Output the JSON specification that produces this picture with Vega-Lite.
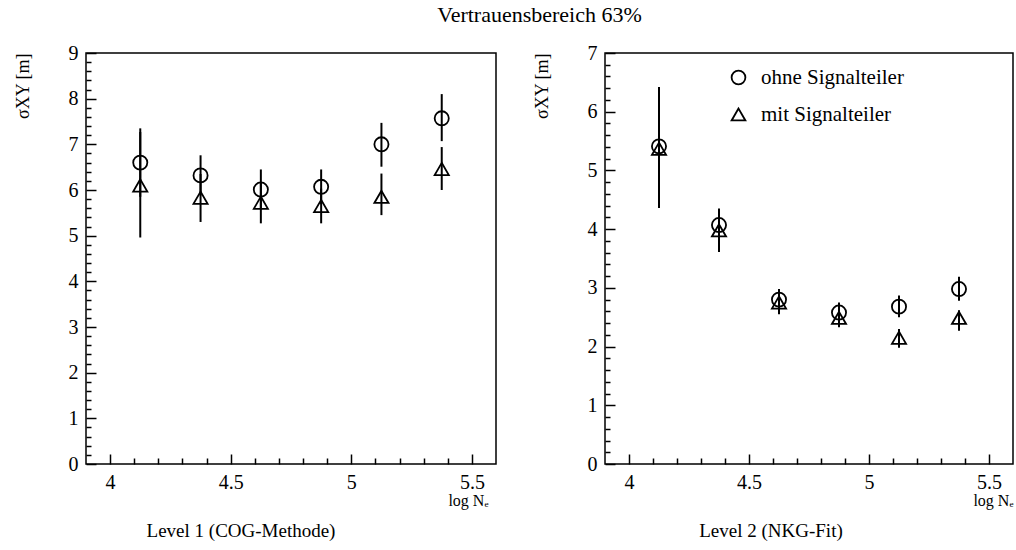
{
  "$schema": "https://vega.github.io/schema/vega-lite/v6.json",
  "background": "white",
  "padding": {"left": 13, "top": 4, "right": 2, "bottom": 4},
  "config": {
    "font": "Liberation Serif",
    "view": {"stroke": "black", "strokeWidth": 1.5},
    "axis": {
      "domain": false,
      "grid": false,
      "tickCount": 200,
      "labelFont": "Liberation Serif",
      "labelFontSize": 20,
      "labelColor": "black",
      "labelOverlap": false,
      "labelFlush": false,
      "tickColor": "black",
      "tickWidth": 1.5,
      "titleFont": "Liberation Serif",
      "titleColor": "black",
      "titleFontWeight": "normal"
    }
  },
  "title": {"text": "Vertrauensbereich 63%", "fontSize": 22, "fontWeight": "normal", "font": "Liberation Serif", "anchor": "middle", "offset": 15, "dx": 26, "color": "black"},
  "datasets": {
    "left": [
      {"logN": 4.125, "series": "ohne Signalteiler", "sigma": 6.60, "lo": 5.85, "hi": 7.35},
      {"logN": 4.375, "series": "ohne Signalteiler", "sigma": 6.32, "lo": 5.88, "hi": 6.76},
      {"logN": 4.625, "series": "ohne Signalteiler", "sigma": 6.01, "lo": 5.57, "hi": 6.45},
      {"logN": 4.875, "series": "ohne Signalteiler", "sigma": 6.07, "lo": 5.69, "hi": 6.45},
      {"logN": 5.125, "series": "ohne Signalteiler", "sigma": 7.00, "lo": 6.51, "hi": 7.47},
      {"logN": 5.375, "series": "ohne Signalteiler", "sigma": 7.57, "lo": 7.07, "hi": 8.10},
      {"logN": 4.125, "series": "mit Signalteiler", "sigma": 6.10, "lo": 4.96, "hi": 7.27},
      {"logN": 4.375, "series": "mit Signalteiler", "sigma": 5.83, "lo": 5.30, "hi": 6.35},
      {"logN": 4.625, "series": "mit Signalteiler", "sigma": 5.72, "lo": 5.27, "hi": 6.15},
      {"logN": 4.875, "series": "mit Signalteiler", "sigma": 5.65, "lo": 5.27, "hi": 6.03},
      {"logN": 5.125, "series": "mit Signalteiler", "sigma": 5.85, "lo": 5.45, "hi": 6.36},
      {"logN": 5.375, "series": "mit Signalteiler", "sigma": 6.46, "lo": 6.00, "hi": 6.94}
    ],
    "right": [
      {"logN": 4.125, "series": "ohne Signalteiler", "sigma": 5.41, "lo": 4.38, "hi": 6.42},
      {"logN": 4.375, "series": "ohne Signalteiler", "sigma": 4.07, "lo": 3.79, "hi": 4.35},
      {"logN": 4.625, "series": "ohne Signalteiler", "sigma": 2.80, "lo": 2.62, "hi": 2.98},
      {"logN": 4.875, "series": "ohne Signalteiler", "sigma": 2.58, "lo": 2.41, "hi": 2.75},
      {"logN": 5.125, "series": "ohne Signalteiler", "sigma": 2.68, "lo": 2.50, "hi": 2.87},
      {"logN": 5.375, "series": "ohne Signalteiler", "sigma": 2.98, "lo": 2.78, "hi": 3.19},
      {"logN": 4.125, "series": "mit Signalteiler", "sigma": 5.37, "lo": 4.36, "hi": 6.38},
      {"logN": 4.375, "series": "mit Signalteiler", "sigma": 3.98, "lo": 3.61, "hi": 4.30},
      {"logN": 4.625, "series": "mit Signalteiler", "sigma": 2.75, "lo": 2.55, "hi": 2.93},
      {"logN": 4.875, "series": "mit Signalteiler", "sigma": 2.49, "lo": 2.33, "hi": 2.65},
      {"logN": 5.125, "series": "mit Signalteiler", "sigma": 2.15, "lo": 1.98, "hi": 2.30},
      {"logN": 5.375, "series": "mit Signalteiler", "sigma": 2.49, "lo": 2.27, "hi": 2.62}
    ]
  },
  "spacing": 35,
  "resolve": {"legend": {"shape": "independent"}, "scale": {"y": "independent", "shape": "independent"}},
  "hconcat": [
    {
      "width": 410,
      "height": 411,
      "data": {"name": "left"},
      "title": {"text": "Level 1 (COG-Methode)", "orient": "bottom", "fontSize": 19, "fontWeight": "normal", "anchor": "middle", "dx": -50, "offset": 14, "color": "black"},
      "layer": [
        {
          "mark": {"type": "rule", "color": "black", "strokeWidth": 2},
          "encoding": {
            "x": {"field": "logN", "type": "quantitative", "scale": {"domain": [3.9, 5.6], "nice": false, "zero": false},
              "axis": {"values": [4.0,4.1,4.2,4.3,4.4,4.5,4.6,4.7,4.8,4.9,5.0,5.1,5.2,5.3,5.4,5.5], "format": "~g",
                "labelExpr": "abs(datum.value*2 - round(datum.value*2)) < 0.001 ? datum.label : ''",
                "tickSize": {"condition": {"test": "abs(datum.value*2 - round(datum.value*2)) < 0.001", "value": -10}, "value": -6},
                "labelPadding": 18,
                "title": "log Nₑ", "titleFontSize": 16, "titleAnchor": "end", "titleAlign": "right", "titleX": 402, "titlePadding": -4}},
            "y": {"field": "lo", "type": "quantitative", "scale": {"domain": [0, 9], "nice": false},
              "axis": {"values": [0,0.2,0.4,0.6,0.8,1,1.2,1.4,1.6,1.8,2,2.2,2.4,2.6,2.8,3,3.2,3.4,3.6,3.8,4,4.2,4.4,4.6,4.8,5,5.2,5.4,5.6,5.8,6,6.2,6.4,6.6,6.8,7,7.2,7.4,7.6,7.8,8,8.2,8.4,8.6,8.8,9], "format": "~g",
                "labelExpr": "abs(datum.value - round(datum.value)) < 0.001 ? datum.label : ''",
                "tickSize": {"condition": {"test": "abs(datum.value - round(datum.value)) < 0.001", "value": -10}, "value": -5},
                "labelPadding": 18,
                "title": "σXY [m]", "titleFontSize": 18, "titleAnchor": "end", "titlePadding": 36}},
            "y2": {"field": "hi"}
          }
        },
        {
          "mark": {"type": "point", "filled": false, "color": "black", "strokeWidth": 1.8, "size": 200, "opacity": 1},
          "encoding": {
            "x": {"field": "logN", "type": "quantitative"},
            "y": {"field": "sigma", "type": "quantitative"},
            "shape": {"field": "series", "type": "nominal", "scale": {"domain": ["ohne Signalteiler", "mit Signalteiler"], "range": ["circle", "triangle-up"]}, "legend": null}
          }
        }
      ]
    },
    {
      "width": 408,
      "height": 411,
      "data": {"name": "right"},
      "title": {"text": "Level 2 (NKG-Fit)", "orient": "bottom", "fontSize": 19, "fontWeight": "normal", "anchor": "middle", "dx": -38, "offset": 14, "color": "black"},
      "layer": [
        {
          "mark": {"type": "rule", "color": "black", "strokeWidth": 2},
          "encoding": {
            "x": {"field": "logN", "type": "quantitative", "scale": {"domain": [3.9, 5.6], "nice": false, "zero": false},
              "axis": {"values": [4.0,4.1,4.2,4.3,4.4,4.5,4.6,4.7,4.8,4.9,5.0,5.1,5.2,5.3,5.4,5.5], "format": "~g",
                "labelExpr": "abs(datum.value*2 - round(datum.value*2)) < 0.001 ? datum.label : ''",
                "tickSize": {"condition": {"test": "abs(datum.value*2 - round(datum.value*2)) < 0.001", "value": -10}, "value": -6},
                "labelPadding": 18,
                "title": "log Nₑ", "titleFontSize": 16, "titleAnchor": "end", "titleAlign": "right", "titleX": 408, "titlePadding": -4}},
            "y": {"field": "lo", "type": "quantitative", "scale": {"domain": [0, 7], "nice": false},
              "axis": {"values": [0,0.2,0.4,0.6,0.8,1,1.2,1.4,1.6,1.8,2,2.2,2.4,2.6,2.8,3,3.2,3.4,3.6,3.8,4,4.2,4.4,4.6,4.8,5,5.2,5.4,5.6,5.8,6,6.2,6.4,6.6,6.8,7], "format": "~g",
                "labelExpr": "abs(datum.value - round(datum.value)) < 0.001 ? datum.label : ''",
                "tickSize": {"condition": {"test": "abs(datum.value - round(datum.value)) < 0.001", "value": -10}, "value": -5},
                "labelPadding": 18,
                "title": "σXY [m]", "titleFontSize": 18, "titleAnchor": "end", "titlePadding": 36}},
            "y2": {"field": "hi"}
          }
        },
        {
          "mark": {"type": "point", "filled": false, "color": "black", "strokeWidth": 1.8, "size": 200, "opacity": 1},
          "encoding": {
            "x": {"field": "logN", "type": "quantitative"},
            "y": {"field": "sigma", "type": "quantitative"},
            "shape": {"field": "series", "type": "nominal", "scale": {"domain": ["ohne Signalteiler", "mit Signalteiler"], "range": ["circle", "triangle-up"]},
              "legend": {"title": null, "orient": "none", "legendX": 123, "legendY": 14, "labelFont": "Liberation Serif", "labelFontSize": 21, "labelColor": "black",
                "symbolStrokeColor": "black", "symbolStrokeWidth": 1.8, "symbolSize": 190, "symbolFillColor": "transparent", "rowPadding": 15, "labelOffset": 12}}
          }
        }
      ]
    }
  ]
}
